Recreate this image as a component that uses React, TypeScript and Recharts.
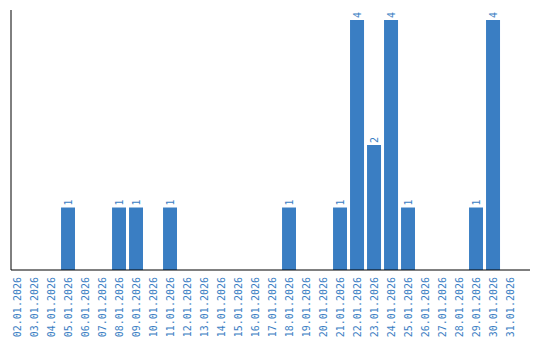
import { BarChart, Bar, XAxis, YAxis, LabelList } from "recharts";

const dates = [
  "02.01.2026", "03.01.2026", "04.01.2026", "05.01.2026", "06.01.2026",
  "07.01.2026", "08.01.2026", "09.01.2026", "10.01.2026", "11.01.2026",
  "12.01.2026", "13.01.2026", "14.01.2026", "15.01.2026", "16.01.2026",
  "17.01.2026", "18.01.2026", "19.01.2026", "20.01.2026", "21.01.2026",
  "22.01.2026", "23.01.2026", "24.01.2026", "25.01.2026", "26.01.2026",
  "27.01.2026", "28.01.2026", "29.01.2026", "30.01.2026", "31.01.2026",
];
const counts = [
  0, 0, 0, 1, 0, 0, 1, 1, 0, 1,
  0, 0, 0, 0, 0, 0, 1, 0, 0, 1,
  4, 2, 4, 1, 0, 0, 0, 1, 4, 0,
];

const BLUE = "#3a7ec3";
const FONT = "'DejaVu Sans Mono', 'Liberation Mono', monospace";

const data = dates.map((d, i) => ({ date: d, count: counts[i] }));

function DateTick({ x, y, payload }: any) {
  const tx = x + 3.5;
  const ty = y - 1;
  return (
    <text
      x={tx}
      y={ty}
      transform={`rotate(-90, ${tx}, ${ty})`}
      textAnchor="end"
      fill={BLUE}
      fontSize={10}
      fontFamily={FONT}
    >
      {payload.value}
    </text>
  );
}

function ValueLabel({ x, y, width, value }: any) {
  if (!value) return null;
  const cx = x + width / 2 + 3.5;
  const ty = y - 2;
  return (
    <text
      x={cx}
      y={ty}
      transform={`rotate(-90, ${cx}, ${ty})`}
      textAnchor="start"
      fill={BLUE}
      fontSize={10}
      fontFamily={FONT}
    >
      {value}
    </text>
  );
}

export default function App() {
  return (
    <BarChart
      width={524}
      height={330}
      data={data}
      margin={{ top: 2, right: 2, bottom: 0, left: 0 }}
      barCategoryGap="9%"
    >
      <XAxis
        dataKey="date"
        interval={0}
        tickLine={false}
        axisLine={{ stroke: "#000" }}
        height={68}
        padding={{ left: -2.5, right: 11.5 }}
        tick={<DateTick />}
      />
      <YAxis
        domain={[0, 4]}
        width={3}
        tick={false}
        tickLine={false}
        axisLine={{ stroke: "#000" }}
        padding={{ top: 10 }}
      />
      <Bar dataKey="count" fill={BLUE} isAnimationActive={false}>
        <LabelList dataKey="count" content={<ValueLabel />} />
      </Bar>
    </BarChart>
  );
}
